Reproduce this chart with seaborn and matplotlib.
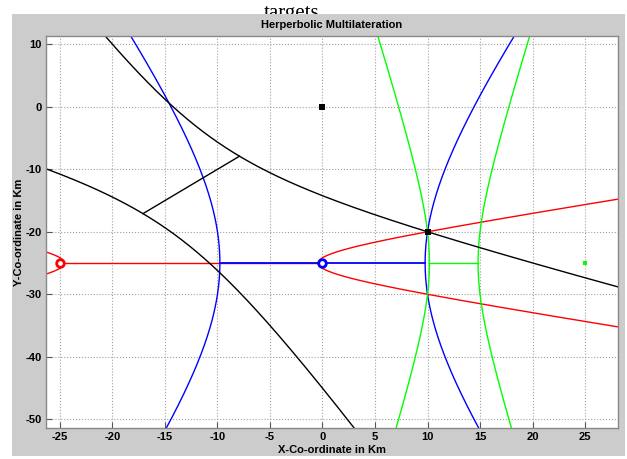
import numpy as np
import pandas as pd
import matplotlib
matplotlib.use("Agg")
import matplotlib.pyplot as plt
import matplotlib.patches as mpatches
from matplotlib.transforms import Bbox
import seaborn as sns

# stations (A red, B blue, C green, D black) and the target
station_names = ['A', 'B', 'C', 'D']
station_x = [-25, 0, 25, 0]
station_y = [-25, -25, -25, 0]
target_x = [10]
target_y = [-20]

# hyperbolas: pair of stations and line colour
pair_first = ['A', 'A', 'B', 'A']
pair_second = ['B', 'C', 'C', 'D']
pair_color = ['#ff0000', '#0000ff', '#00ff00', '#000000']

xticks = [-25, -20, -15, -10, -5, 0, 5, 10, 15, 20, 25]
yticks = [-50, -40, -30, -20, -10, 0, 10]

plt.rcParams['axes.unicode_minus'] = False

st = pd.DataFrame({'x': station_x, 'y': station_y}, index=station_names)
tgt = np.array([target_x[0], target_y[0]], dtype=float)

W, H = 627, 459
fig = plt.figure(figsize=(W / 100, H / 100), dpi=100)
fig.patch.set_facecolor('white')

# matlab style gray frame, "targets" text is cut off by it
txt = fig.text(292 / W, 1 - 18 / H, 'targets', ha='center', va='baseline',
               fontsize=15, family=['Liberation Serif', 'DejaVu Serif'], zorder=-3)
txt.set_clip_box(Bbox([[0, H - 14], [W, H]]))
fig.patches.append(mpatches.Rectangle((12 / W, 1 - 456 / H), (625 - 12) / W, (456 - 14) / H,
                                      transform=fig.transFigure, facecolor='#cccccc',
                                      edgecolor='none', zorder=-2))

ax = fig.add_axes([46 / W, 1 - 428 / H, (618 - 46) / W, (428 - 36) / H])
ax.set_facecolor('white')

seg_lw = [1.0, 1.3, 1.0, 1.0]
t = np.linspace(-5, 5, 3000)
for f1, f2, col, slw in zip(pair_first, pair_second, pair_color, seg_lw):
    p1 = st.loc[f1].values.astype(float)
    p2 = st.loc[f2].values.astype(float)
    d = np.linalg.norm(tgt - p1) - np.linalg.norm(tgt - p2)
    cen = (p1 + p2) / 2
    c = np.linalg.norm(p2 - p1) / 2
    a = abs(d) / 2
    b = np.sqrt(c**2 - a**2)
    u = (p2 - p1) / (2 * c)
    v = np.array([-u[1], u[0]])
    for sgn in (1, -1):
        pts = cen + np.outer(sgn * a * np.cosh(t), u) + np.outer(b * np.sinh(t), v)
        sns.lineplot(x=pts[:, 0], y=pts[:, 1], sort=False, estimator=None,
                     color=col, lw=1.0, ax=ax)
    # line between the two vertices
    vert = np.array([cen - a * u, cen + a * u])
    sns.lineplot(x=vert[:, 0], y=vert[:, 1], sort=False, estimator=None,
                 color=col, lw=slw, ax=ax)

# station markers
sns.scatterplot(x=[station_x[0]], y=[station_y[0]], marker='o', s=30, facecolor='white',
                edgecolor='#ff0000', linewidth=2.0, ax=ax, zorder=5)
sns.scatterplot(x=[station_x[1]], y=[station_y[1]], marker='o', s=30, facecolor='white',
                edgecolor='#0000ff', linewidth=2.0, ax=ax, zorder=5)
sns.scatterplot(x=[station_x[2]], y=[station_y[2]], marker='s', s=12, color='#00ff00',
                linewidth=0, ax=ax, zorder=5)
sns.scatterplot(x=[station_x[3]], y=[station_y[3]], marker='s', s=14, color='black',
                linewidth=0, ax=ax, zorder=5)
sns.scatterplot(x=target_x, y=target_y, marker='s', s=16, color='black',
                linewidth=0, ax=ax, zorder=6)

ax.set_xlim(-26.33, 28.14)
ax.set_ylim(-51.4, 11.33)
ax.set_xticks(xticks)
ax.set_yticks(yticks)
ax.grid(True, linestyle=':', color='#a0a0a0', lw=0.8)
ax.set_axisbelow(True)
ax.tick_params(direction='in', length=4, color='#555555', pad=3)
for sp in ax.spines.values():
    sp.set_color('#888888')
    sp.set_linewidth(1.0)

tfont = dict(family=['Liberation Sans Narrow', 'Liberation Sans', 'DejaVu Sans'],
             weight='bold', size=8)
for lab in ax.get_xticklabels() + ax.get_yticklabels():
    lab.set_fontfamily(tfont['family'])
    lab.set_fontweight('bold')
    lab.set_fontsize(8)

ax.set_title('Herperbolic Multilateration', fontdict=tfont, pad=6)
ax.set_xlabel('X-Co-ordinate in Km', fontdict=tfont, labelpad=2)
ax.set_ylabel('Y-Co-ordinate in Km', fontdict=tfont)
ax.yaxis.set_label_coords(-0.039, 0.5)

fig.savefig('out.png', dpi=100)
